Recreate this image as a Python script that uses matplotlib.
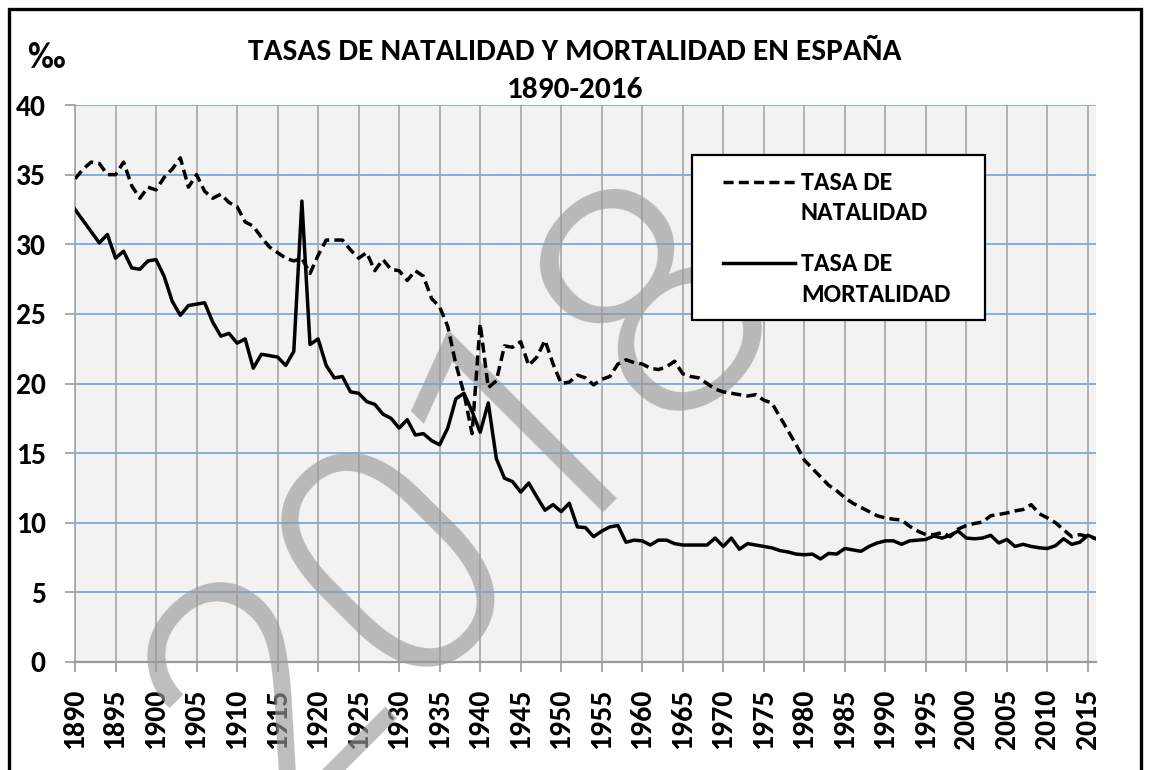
import matplotlib
matplotlib.use('Agg')
import matplotlib.pyplot as plt
from matplotlib import font_manager
from matplotlib.patches import Rectangle
from matplotlib.lines import Line2D

# yearly rates per thousand, 1890-2016
years = list(range(1890, 2017))

natalidad = [
    34.7, 35.4, 35.9, 35.8, 35.0, 35.0, 35.9, 34.2, 33.3, 34.1,   # 1890s
    33.9, 34.8, 35.4, 36.2, 34.1, 35.0, 33.8, 33.3, 33.6, 33.0,   # 1900s
    32.7, 31.6, 31.3, 30.5, 29.8, 29.4, 29.0, 28.8, 29.0, 27.9,   # 1910s
    29.2, 30.3, 30.3, 30.3, 29.6, 29.0, 29.4, 28.1, 28.9, 28.2,   # 1920s
    28.1, 27.4, 28.1, 27.7, 26.1, 25.5, 24.1, 21.4, 19.3, 16.4,   # 1930s
    24.3, 19.7, 20.2, 22.7, 22.6, 23.0, 21.3, 21.9, 23.1, 21.4,   # 1940s
    20.0, 20.1, 20.6, 20.4, 19.9, 20.3, 20.5, 21.4, 21.7, 21.5,   # 1950s
    21.4, 21.1, 21.0, 21.2, 21.6, 20.7, 20.5, 20.4, 20.0, 19.6,   # 1960s
    19.4, 19.3, 19.2, 19.1, 19.2, 18.8, 18.6, 17.6, 16.6, 15.6,   # 1970s
    14.5, 13.9, 13.3, 12.7, 12.3, 11.8, 11.4, 11.1, 10.8, 10.5,   # 1980s
    10.35, 10.25, 10.2, 9.75, 9.4, 9.15, 9.15, 9.3, 9.0, 9.55,    # 1990s
    9.8, 9.95, 10.05, 10.5, 10.6, 10.7, 10.85, 10.95, 11.3, 10.65,  # 2000s
    10.35, 10.0, 9.5, 9.0, 9.15, 9.0, 8.85,                        # 2010-2016
]

mortalidad = [
    32.5, 31.7, 30.9, 30.1, 30.7, 29.0, 29.5, 28.3, 28.2, 28.8,
    28.9, 27.7, 25.9, 24.9, 25.6, 25.7, 25.8, 24.4, 23.4, 23.6,
    22.9, 23.2, 21.1, 22.1, 22.0, 21.9, 21.3, 22.3, 33.1, 22.8,
    23.2, 21.3, 20.4, 20.5, 19.4, 19.3, 18.7, 18.5, 17.8, 17.5,
    16.8, 17.4, 16.3, 16.4, 15.9, 15.6, 16.8, 18.9, 19.3, 18.0,
    16.5, 18.6, 14.6, 13.2, 12.95, 12.2, 12.85, 11.85, 10.9, 11.3,
    10.8, 11.4, 9.7, 9.65, 9.0, 9.4, 9.7, 9.8, 8.6, 8.75,
    8.7, 8.4, 8.75, 8.75, 8.5, 8.4, 8.4, 8.4, 8.4, 8.9,
    8.3, 8.9, 8.1, 8.5, 8.4, 8.3, 8.2, 8.0, 7.9, 7.75,
    7.7, 7.75, 7.4, 7.8, 7.75, 8.15, 8.05, 7.95, 8.3, 8.55,
    8.7, 8.7, 8.45, 8.7, 8.75, 8.8, 9.05, 8.9, 9.1, 9.4,
    8.9, 8.85, 8.9, 9.1, 8.55, 8.8, 8.3, 8.45, 8.3, 8.2,
    8.15, 8.35, 8.85, 8.45, 8.6, 9.1, 8.85,
]

x_ticks = list(range(1890, 2016, 5))
y_ticks = list(range(0, 45, 5))


def pick(cands):
    # first family that is really installed
    for c in cands:
        try:
            font_manager.findfont(font_manager.FontProperties(family=c), fallback_to_default=False)
            return c
        except ValueError:
            pass
    return 'DejaVu Sans'


calib = pick(['Carlito', 'Calibri', 'Open Sans'])
mark = pick(['Roboto', 'Open Sans', 'DejaVu Sans'])

W, H = 1149, 770
fig = plt.figure(figsize=(W / 100, H / 100), dpi=100)
ax = fig.add_axes([75 / W, 1 - 662 / H, (1096 - 75) / W, (662 - 105) / H])
ax.set_facecolor('#f2f2f2')

ax.plot(years, natalidad, color='black', lw=2.5, dashes=(2.9, 1.5), zorder=4)
ax.plot(years, mortalidad, color='black', lw=2.5, zorder=4)

ax.set_xlim(1890, 2016)
ax.set_ylim(0, 40)
ax.set_xticks(x_ticks)
ax.set_yticks(y_ticks)
xl = ax.set_xticklabels([str(y) for y in x_ticks], rotation=90, family=calib,
                        fontweight='bold', fontsize=22)
yl = ax.set_yticklabels([str(v) for v in y_ticks], family=calib,
                        fontweight='bold', fontsize=20)

# grid: blue horizontal, grey vertical
for v in y_ticks[1:]:
    ax.axhline(v, color='#6fa3dc', lw=1.2, zorder=1)
for y in x_ticks:
    ax.axvline(y, color='#a6a6a6', lw=1.2, zorder=1)
for side in ['top', 'right']:
    ax.spines[side].set_visible(False)
ax.spines['bottom'].set_color('#9a9a9a')
ax.spines['bottom'].set_linewidth(1.6)
ax.spines['left'].set_color('#a6a6a6')
ax.spines['left'].set_linewidth(1.2)
ax.tick_params(axis='both', colors='#9a9a9a', length=7, width=1.2, labelcolor='black')
ax.tick_params(axis='x', pad=12)
ax.tick_params(axis='y', pad=14)

# watermark
ax.text(0.408, 0.35, '2018', transform=fig.transFigure, rotation=45,
        ha='center', va='center', rotation_mode='anchor',
        family=mark, fontweight=300, fontsize=240,
        color='#9a9a9a', alpha=0.65, zorder=2, clip_on=False)

# titles
t1 = fig.text(575 / W, 1 - 52 / H, 'TASAS DE NATALIDAD Y MORTALIDAD EN ESPAÑA',
              ha='center', va='center', family=calib, fontweight='bold', fontsize=22)
t2 = fig.text(575 / W, 1 - 90 / H, '1890-2016', ha='center', va='center',
              family=calib, fontweight='bold', fontsize=22)
t3 = fig.text(46 / W, 1 - 58 / H, '‰', ha='center', va='center',
              family=calib, fontweight='bold', fontsize=25)

# legend box drawn by hand
fig.patches.append(Rectangle((692 / W, 1 - 320 / H), (985 - 692) / W, (320 - 155) / H,
                             transform=fig.transFigure, facecolor='white',
                             edgecolor='black', lw=1.6, zorder=5))
fig.lines.append(Line2D([723 / W, 795 / W], [1 - 182 / H, 1 - 182 / H],
                        transform=fig.transFigure, color='black', lw=2.5,
                        dashes=(2.9, 1.5), zorder=6))
fig.lines.append(Line2D([723 / W, 795 / W], [1 - 263 / H, 1 - 263 / H],
                        transform=fig.transFigure, color='black', lw=2.5, zorder=6))
leg = []
for txt, ypx in [('TASA DE', 182), ('NATALIDAD', 212), ('TASA DE', 263), ('MORTALIDAD', 294)]:
    leg.append(fig.text(801 / W, 1 - ypx / H, txt, ha='left', va='center', family=calib,
                        fontweight='bold', fontsize=18.5, zorder=6))

# scale texts to the widths seen in the reference, whatever font was found
fig.canvas.draw()
r = fig.canvas.get_renderer()
k = 654 / t1.get_window_extent(r).width
for t in (t1, t2, t3):
    t.set_fontsize(t.get_fontsize() * k)
k = 60 / xl[0].get_window_extent(r).height
for t in xl:
    t.set_fontsize(t.get_fontsize() * k)
k = 30 / yl[-1].get_window_extent(r).width
for t in yl:
    t.set_fontsize(t.get_fontsize() * k)
k = 150 / leg[3].get_window_extent(r).width
for t in leg:
    t.set_fontsize(t.get_fontsize() * k)

# outer frame
fig.patches.append(Rectangle((9 / W, -0.1), (1141 - 9) / W, 1.1 - 9 / H,
                             transform=fig.transFigure, fill=False,
                             edgecolor='black', lw=2.4, zorder=10))

plt.savefig('out.png', dpi=100)
